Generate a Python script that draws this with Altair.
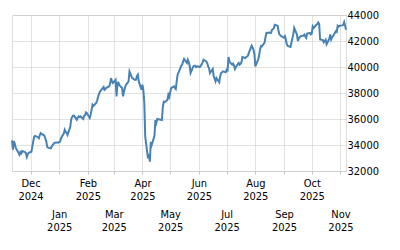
import altair as alt
import pandas as pd

dates = [
    "2024-11-11", "2024-11-12", "2024-11-13", "2024-11-14", "2024-11-15",
    "2024-11-18", "2024-11-19", "2024-11-20", "2024-11-21", "2024-11-22",
    "2024-11-25", "2024-11-26", "2024-11-27", "2024-11-28", "2024-11-29",
    "2024-12-02", "2024-12-03", "2024-12-04", "2024-12-05", "2024-12-06",
    "2024-12-09", "2024-12-10", "2024-12-11", "2024-12-12", "2024-12-13",
    "2024-12-16", "2024-12-17", "2024-12-18", "2024-12-19", "2024-12-20",
    "2024-12-23", "2024-12-24", "2024-12-27", "2024-12-30", "2024-12-31",
    "2025-01-02", "2025-01-03", "2025-01-06", "2025-01-07", "2025-01-08",
    "2025-01-09", "2025-01-10", "2025-01-13", "2025-01-14", "2025-01-15",
    "2025-01-16", "2025-01-17", "2025-01-20", "2025-01-21", "2025-01-22",
    "2025-01-23", "2025-01-24", "2025-01-27", "2025-01-28", "2025-01-29",
    "2025-01-30", "2025-01-31",
    "2025-02-03", "2025-02-04", "2025-02-05", "2025-02-06", "2025-02-07",
    "2025-02-10", "2025-02-11", "2025-02-12", "2025-02-13", "2025-02-14",
    "2025-02-17", "2025-02-18", "2025-02-19", "2025-02-20", "2025-02-21",
    "2025-02-24", "2025-02-25", "2025-02-26", "2025-02-27", "2025-02-28",
    "2025-03-03", "2025-03-04", "2025-03-05", "2025-03-06", "2025-03-07",
    "2025-03-10", "2025-03-11", "2025-03-12", "2025-03-13", "2025-03-14",
    "2025-03-17", "2025-03-18", "2025-03-19", "2025-03-20", "2025-03-21",
    "2025-03-24", "2025-03-25", "2025-03-26", "2025-03-27", "2025-03-28",
    "2025-03-31",
    "2025-04-01", "2025-04-02", "2025-04-03", "2025-04-04", "2025-04-07",
    "2025-04-08", "2025-04-09", "2025-04-10", "2025-04-11", "2025-04-14",
    "2025-04-15", "2025-04-16", "2025-04-17", "2025-04-22", "2025-04-23",
    "2025-04-24", "2025-04-25", "2025-04-28", "2025-04-29", "2025-04-30",
    "2025-05-02", "2025-05-05", "2025-05-06", "2025-05-07", "2025-05-08",
    "2025-05-09", "2025-05-12", "2025-05-13", "2025-05-14", "2025-05-15",
    "2025-05-16", "2025-05-19", "2025-05-20", "2025-05-21", "2025-05-22",
    "2025-05-23", "2025-05-26", "2025-05-27", "2025-05-28", "2025-05-29",
    "2025-05-30",
    "2025-06-02", "2025-06-03", "2025-06-04", "2025-06-05", "2025-06-06",
    "2025-06-09", "2025-06-10", "2025-06-11", "2025-06-12", "2025-06-13",
    "2025-06-16", "2025-06-17", "2025-06-18", "2025-06-19", "2025-06-20",
    "2025-06-23", "2025-06-24", "2025-06-25", "2025-06-26", "2025-06-27",
    "2025-06-30",
    "2025-07-01", "2025-07-02", "2025-07-03", "2025-07-04", "2025-07-07",
    "2025-07-08", "2025-07-09", "2025-07-10", "2025-07-11", "2025-07-14",
    "2025-07-15", "2025-07-16", "2025-07-17", "2025-07-18", "2025-07-21",
    "2025-07-22", "2025-07-23", "2025-07-24", "2025-07-25", "2025-07-28",
    "2025-07-29", "2025-07-30", "2025-07-31",
    "2025-08-01", "2025-08-04", "2025-08-05", "2025-08-06", "2025-08-07",
    "2025-08-08", "2025-08-11", "2025-08-12", "2025-08-13", "2025-08-14",
    "2025-08-15", "2025-08-18", "2025-08-19", "2025-08-20", "2025-08-21",
    "2025-08-22", "2025-08-25", "2025-08-26", "2025-08-27", "2025-08-28",
    "2025-08-29",
    "2025-09-01", "2025-09-02", "2025-09-03", "2025-09-04", "2025-09-05",
    "2025-09-08", "2025-09-09", "2025-09-10", "2025-09-11", "2025-09-12",
    "2025-09-15", "2025-09-16", "2025-09-17", "2025-09-18", "2025-09-19",
    "2025-09-22", "2025-09-23", "2025-09-24", "2025-09-25", "2025-09-26",
    "2025-09-29", "2025-09-30",
    "2025-10-01", "2025-10-02", "2025-10-03", "2025-10-06", "2025-10-07",
    "2025-10-08", "2025-10-09", "2025-10-10", "2025-10-13", "2025-10-14",
    "2025-10-15", "2025-10-16", "2025-10-17", "2025-10-20", "2025-10-21",
    "2025-10-22", "2025-10-23", "2025-10-24", "2025-10-27", "2025-10-28",
    "2025-10-29", "2025-10-30", "2025-10-31",
    "2025-11-03", "2025-11-04", "2025-11-05", "2025-11-06", "2025-11-07",
]

values = [
    34350, 33650, 34300, 34100, 33800,
    33400, 33250, 33450, 33350, 33530,
    33450, 33380, 33090, 33300, 33400,
    33480, 33900, 34300, 34650, 34700,
    34600, 34520, 34750, 34910, 34850,
    34720, 34500, 34300, 33870, 33800,
    33740, 33900, 34180, 34200, 34180,
    34260, 34520, 34900, 35170, 35000,
    34950, 34780, 35400, 36000, 36150,
    36250, 36260, 35950, 36100, 36200,
    36150, 36200, 36000, 36250, 36300,
    36510, 36450,
    36080, 36330, 36700, 37100, 37000,
    37230, 37400, 37700, 37920, 38100,
    38380, 38460, 38250, 38310, 38400,
    38510, 38700, 39150, 38900, 38770,
    39020, 37740, 38770, 38800, 38600,
    38380, 37740, 38100, 38380, 38600,
    38890, 39660, 39500, 39300, 39150,
    39000, 39020, 39300, 39410, 38890,
    38250,
    38640, 38200, 37230, 34650, 32980,
    33300, 32720, 34250, 34000, 34700,
    35920, 35700, 36000, 35920, 36900,
    37330, 37300, 37460, 37870, 37700,
    38380, 38510, 38400, 38310, 38900,
    39410, 39920, 40100, 40200, 40430,
    40620, 40310, 40560, 40400, 40100,
    39540, 40050, 40100, 40100, 40000,
    40050,
    40000, 40100, 40200, 40360, 40560,
    40430, 40300, 40050, 39900, 39540,
    39850, 39280, 39100, 38890, 39150,
    38820, 39300, 39540, 39600, 39660,
    39590,
    39790, 39740, 40770, 40400, 40180,
    40250, 40100, 39850, 40000, 40310,
    40180, 40250, 40360, 40770, 40690,
    40750, 40800, 40870, 41080, 41640,
    41500, 41330, 41000,
    40050, 40560, 40870, 41300, 41600,
    41590, 41870, 42300, 42620, 42600,
    42650, 42620, 42870, 42900, 43000,
    43250, 43170, 42800, 42500, 42450,
    42370,
    42250, 42370, 42100, 41750, 41620,
    41550, 41870, 42200, 42500, 43000,
    42500, 42000, 42200, 42300, 42370,
    42420, 42500, 42350, 42250, 42570,
    42620, 42500,
    42570, 43120, 43000, 43250, 43300,
    43420, 43300, 42120, 42070, 41900,
    42000, 42100, 41750, 42170, 42500,
    42120, 42300, 42370, 42750, 42700,
    43170, 43100, 43170,
    43200, 43250, 43450, 43200, 42870,
]

y_ticks = [32000, 34000, 36000, 38000, 40000, 42000, 44000]
month_ticks = [
    (2024, 12), (2025, 1), (2025, 2), (2025, 3), (2025, 4), (2025, 5),
    (2025, 6), (2025, 7), (2025, 8), (2025, 9), (2025, 10), (2025, 11),
]

df = pd.DataFrame({"date": [d + "T00:00:00" for d in dates], "value": values})

FONT = "DejaVu Sans Condensed, DejaVu Sans"
GRID = "#c4c4c4"

x_axis = alt.Axis(
    values=[alt.DateTime(year=y, month=m, date=1) for y, m in month_ticks],
    labelExpr="[timeFormat(datum.value, '%b'), timeFormat(datum.value, '%Y')]",
    grid=True,
    gridColor=GRID,
    gridDash=[1, 1],
    gridWidth=1,
    domain=False,
    ticks=True,
    tickSize=3,
    tickColor=GRID,
    labelPadding={"condition": {"test": "month(datum.value) % 2 == 0", "value": 34}, "value": 3},
    labelFont=FONT,
    labelFontSize=11,
    labelColor="#000000",
    labelLineHeight=13,
    labelOverlap=False,
    labelBound=False,
    labelFlush=False,
    labelAlign="center",
    labelBaseline="top",
    title=None,
)

y_axis = alt.Axis(
    orient="right",
    values=y_ticks,
    format="d",
    grid=True,
    gridColor=GRID,
    gridDash=[1, 1],
    gridWidth=1,
    domain=False,
    ticks=False,
    labelPadding=1,
    labelFont=FONT,
    labelFontSize=11,
    labelColor="#000000",
    labelAlign="left",
    labelBaseline="middle",
    title=None,
)

chart = (
    alt.Chart(df)
    .mark_line(color="#4682b4", strokeWidth=2, interpolate="linear")
    .encode(
        x=alt.X("date:T", axis=x_axis, scale=alt.Scale(nice=False)),
        y=alt.Y("value:Q", axis=y_axis, scale=alt.Scale(domain=[32000, 44000], nice=False, zero=False)),
    )
    .properties(
        width=334,
        height=156,
        autosize=alt.AutoSizeParams(type="none"),
        padding={"left": 12, "top": 15, "right": 54, "bottom": 79},
    )
    .configure_view(stroke=None)
    .configure(background="#ffffff")
)

chart.save("out.html", embed_options={"renderer": "svg", "actions": False})
